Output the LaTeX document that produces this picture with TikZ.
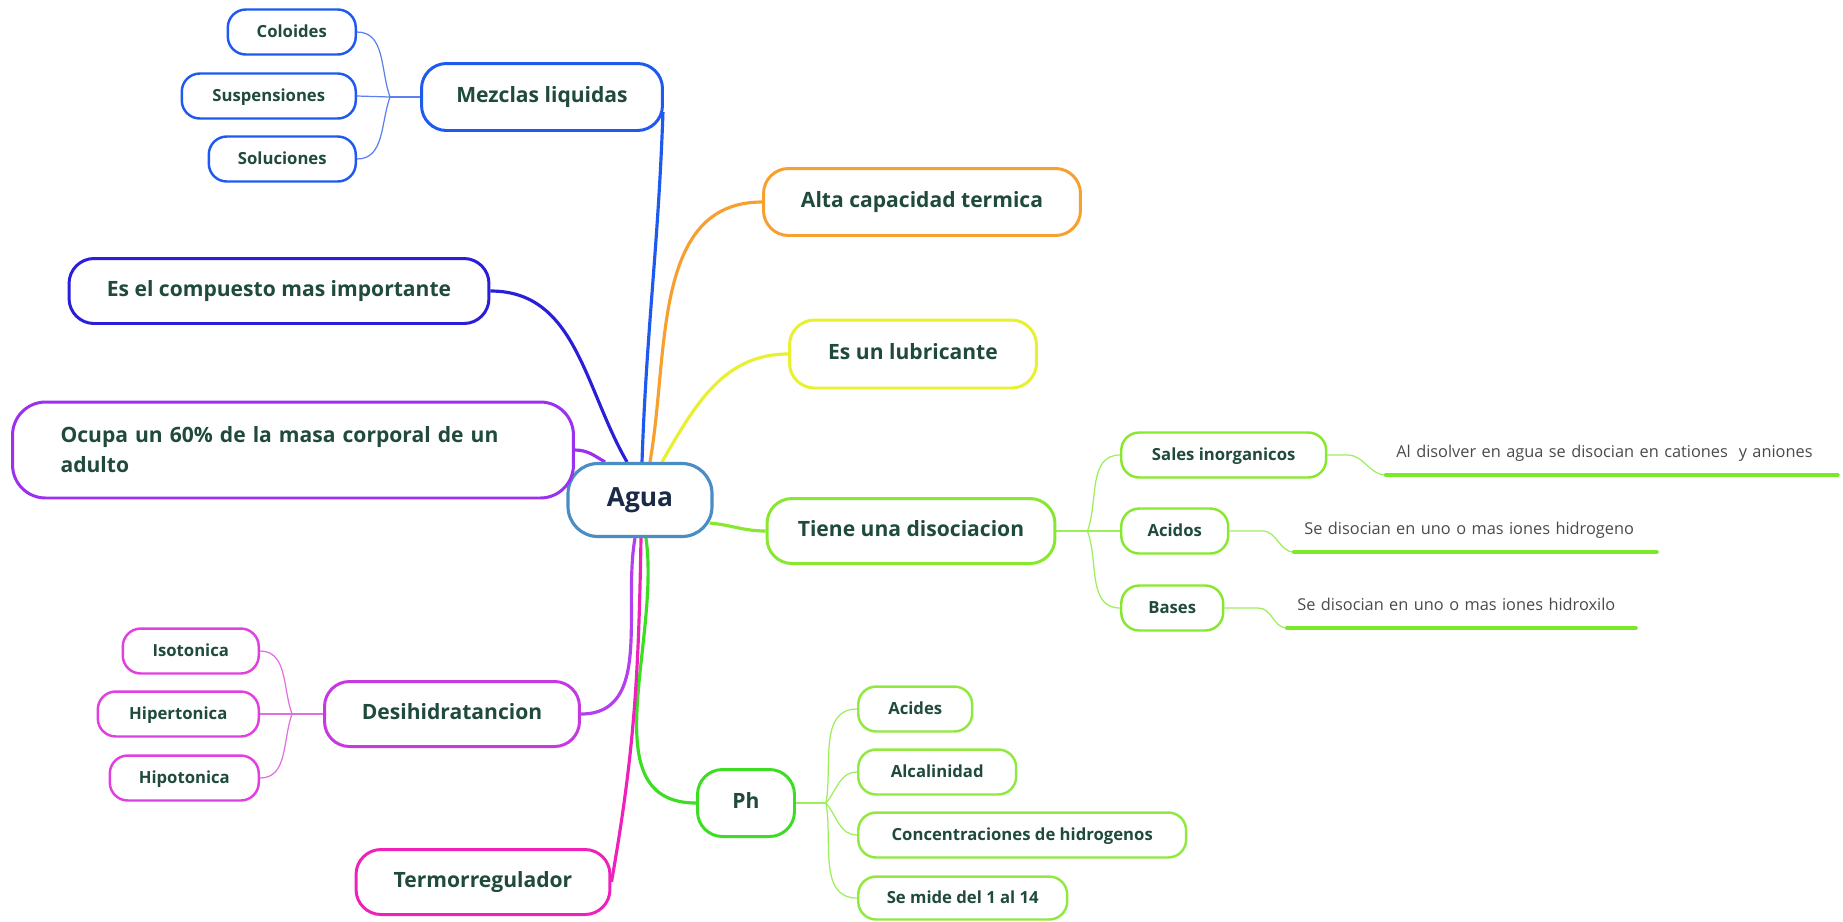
\documentclass[tikz,border=0pt]{standalone}
\usepackage{fontspec}
\setmainfont{Open Sans}
\usetikzlibrary{backgrounds}

\definecolor{txtgreen}{HTML}{1F4A3D}
\definecolor{leafgray}{HTML}{4A4A4A}
\definecolor{aguablue}{HTML}{4A8CC4}
\definecolor{aguatxt}{HTML}{1B2A48}
\definecolor{mezblue}{HTML}{1F5AF0}
\definecolor{mezsub}{HTML}{5B80F0}
\definecolor{compblue}{HTML}{2A1FD8}
\definecolor{ocupurple}{HTML}{9B30F0}
\definecolor{altaorange}{HTML}{F7A030}
\definecolor{lubyellow}{HTML}{E8F030}
\definecolor{tienegreen}{HTML}{88E830}
\definecolor{tienesub}{HTML}{9CEE5A}
\definecolor{leafgreen}{HTML}{7DE82A}
\definecolor{phgreen}{HTML}{3CDD22}
\definecolor{phsub}{HTML}{90E840}
\definecolor{desihpurple}{HTML}{C638E0}
\definecolor{desihline}{HTML}{B040F0}
\definecolor{desihsub}{HTML}{E040E0}
\definecolor{desihthin}{HTML}{E070E0}
\definecolor{termopink}{HTML}{EE22BB}

\begin{document}
\begin{tikzpicture}[x=0.02cm, y=-0.02cm,
    box/.style={draw=#1, fill=white, line width=1.7pt, rounded corners=0.5cm,
      text=txtgreen, font=\fontsize{12}{17}\selectfont\bfseries},
    topic/.style={box=#1, minimum height=1.34cm, text height=1.6ex, text depth=0.4ex},
    subtopic/.style={box=#1, line width=1.4pt, rounded corners=0.36cm, minimum height=0.9cm,
      font=\fontsize{9.5}{12}\selectfont\bfseries, text height=1.6ex, text depth=0.4ex},
    leaf/.style={anchor=south west, inner xsep=0.2cm, inner ysep=0.34cm, text depth=0pt,
      align=left, text=leafgray, font=\fontsize{9.3}{11}\selectfont},
    link/.style={draw=#1, line width=1.8pt},
    sublink/.style={draw=#1, line width=0.7pt},
    leafline/.style={draw=#1, line width=2.4pt, line cap=round}]
  \useasboundingbox (0,0) rectangle (1843,921);

  % centre
  \node[box=aguablue, line width=1.8pt, rounded corners=0.6cm, minimum width=2.88cm,
    minimum height=1.46cm, text=aguatxt, font=\fontsize{15}{17}\selectfont\bfseries] (agua) at (640,500) {Agua};

  % left side
  \node[topic=mezblue, minimum width=4.82cm] (mezclas) at (542,97) {Mezclas liquidas};
  \node[subtopic=mezblue, minimum width=2.56cm, anchor=east] (coloides) at (357,32) {Coloides};
  \node[subtopic=mezblue, minimum width=3.48cm, anchor=east] (suspensiones) at (357,96) {Suspensiones};
  \node[subtopic=mezblue, minimum width=2.94cm, anchor=east] (soluciones) at (357,159) {Soluciones};
  \node[topic=compblue, minimum width=8.4cm, minimum height=1.3cm] (compuesto) at (279,291) {Es el compuesto mas importante};
  \node[box=ocupurple, minimum height=1.92cm, rounded corners=0.66cm, text width=9.3cm,
    inner xsep=0.96cm, align=left] (ocupa) at (293,450) {Ocupa un 60\% de la masa corporal de un\\adulto};
  \node[topic=desihpurple, minimum width=5.1cm, minimum height=1.3cm] (desih) at (452,714) {Desihidratancion};
  \node[subtopic=desihsub, minimum width=2.72cm, anchor=east] (isotonica) at (260,651) {Isotonica};
  \node[subtopic=desihsub, minimum width=3.22cm, anchor=east] (hipertonica) at (260,714) {Hipertonica};
  \node[subtopic=desihsub, minimum width=2.98cm, anchor=east] (hipotonica) at (260,778) {Hipotonica};
  \node[topic=termopink, minimum width=5.08cm, minimum height=1.3cm] (termo) at (483,882) {Termorregulador};

  % right side
  \node[topic=altaorange, minimum width=6.34cm] (alta) at (922,202) {Alta capacidad termica};
  \node[topic=lubyellow, minimum width=4.94cm, minimum height=1.36cm] (lubricante) at (913,354) {Es un lubricante};
  \node[topic=tienegreen, minimum width=5.76cm, minimum height=1.3cm] (tiene) at (911,531) {Tiene una disociacion};
  \node[subtopic=tienegreen, minimum width=4.1cm, anchor=west] (sales) at (1120,455) {Sales inorganicos};
  \node[subtopic=tienegreen, minimum width=2.14cm, anchor=west] (acidos) at (1120,531) {Acidos};
  \node[subtopic=tienegreen, minimum width=2.04cm, anchor=west] (bases) at (1120,608) {Bases};
  \node[leaf, text width=8.62cm] (salesleaf) at (1386,475) {Al disolver en agua se disocian en cationes \ y aniones};
  \node[leaf, text width=6.84cm] (acidosleaf) at (1294,552) {Se disocian en uno o mas iones hidrogeno};
  \node[leaf, text width=6.56cm] (basesleaf) at (1287,628) {Se disocian en uno o mas iones hidroxilo};
  \node[topic=phgreen, minimum width=1.94cm] (ph) at (746,803) {Ph};
  \node[subtopic=phsub, minimum width=2.28cm, anchor=west] (acides) at (857,709) {Acides};
  \node[subtopic=phsub, minimum width=3.16cm, anchor=west] (alcalinidad) at (857,772) {Alcalinidad};
  \node[subtopic=phsub, minimum width=6.56cm, anchor=west] (concentraciones) at (857,835) {Concentraciones de hidrogenos};
  \node[subtopic=phsub, minimum width=4.18cm, minimum height=0.86cm, anchor=west] (semide) at (857,898) {Se mide del 1 al 14};

  \begin{scope}[on background layer]
    % branches out of the centre
    \draw[link=mezblue] ([xshift=0.04cm]agua.north) to[out=88,in=-92] ([xshift=-0.02cm,yshift=-0.3cm]mezclas.east);
    \draw[link=compblue] ([xshift=-0.26cm]agua.north) to[out=120,in=0] (compuesto.east);
    \draw[link=ocupurple] ([xshift=-0.7cm]agua.north) to[out=150,in=0] (ocupa.east);
    \draw[link=altaorange] ([xshift=0.2cm]agua.north) to[out=80,in=180] (alta.west);
    \draw[link=lubyellow] ([xshift=0.44cm]agua.north) to[out=60,in=180] (lubricante.west);
    \draw[link=tienegreen] ([xshift=-0.08cm,yshift=-0.46cm]agua.east) to[out=-5,in=180] (tiene.west);
    \draw[link=phgreen] ([xshift=0.12cm]agua.south) to[out=-82,in=180] (ph.west);
    \draw[link=desihline] ([xshift=-0.1cm]agua.south) to[out=-100,in=0] (desih.east);
    \draw[link=termopink] ([xshift=0.02cm]agua.south) to[out=-91,in=80] (termo.east);

    % second level
    \draw[sublink=mezsub] (mezclas.west) -- ++(-30,0) coordinate (jm);
    \draw[sublink=mezsub] (jm) to[out=110,in=0] (coloides.east);
    \draw[sublink=mezsub] (jm) -- (suspensiones.east);
    \draw[sublink=mezsub] (jm) to[out=-110,in=0] (soluciones.east);

    \draw[sublink=desihthin] (desih.west) -- ++(-31,0) coordinate (jd);
    \draw[sublink=desihthin] (jd) to[out=110,in=0] (isotonica.east);
    \draw[sublink=desihthin] (jd) -- (hipertonica.east);
    \draw[sublink=desihthin] (jd) to[out=-110,in=0] (hipotonica.east);

    \draw[sublink=tienesub] (tiene.east) -- ++(31,0) coordinate (jt);
    \draw[sublink=tienesub] (jt) to[out=70,in=180] (sales.west);
    \draw[sublink=tienesub] (jt) -- (acidos.west);
    \draw[sublink=tienesub] (jt) to[out=-70,in=180] (bases.west);

    \draw[sublink=tienesub] (ph.east) -- ++(30,0) coordinate (jp);
    \draw[sublink=tienesub] (jp) to[out=80,in=180] (acides.west);
    \draw[sublink=tienesub] (jp) to[out=50,in=180] (alcalinidad.west);
    \draw[sublink=tienesub] (jp) to[out=-50,in=180] (concentraciones.west);
    \draw[sublink=tienesub] (jp) to[out=-80,in=180] (semide.west);

    % leaves
    \draw[sublink=tienesub] (sales.east) -- ++(20,0) to[out=0,in=180] (salesleaf.south west);
    \draw[sublink=tienesub] (acidos.east) -- ++(33,0) to[out=0,in=180] (acidosleaf.south west);
    \draw[sublink=tienesub] (bases.east) -- ++(34,0) to[out=0,in=180] (basesleaf.south west);
  \end{scope}
  \draw[leafline=leafgreen] (salesleaf.south west) -- (salesleaf.south east);
  \draw[leafline=leafgreen] (acidosleaf.south west) -- (acidosleaf.south east);
  \draw[leafline=leafgreen] (basesleaf.south west) -- (basesleaf.south east);
\end{tikzpicture}
\end{document}
